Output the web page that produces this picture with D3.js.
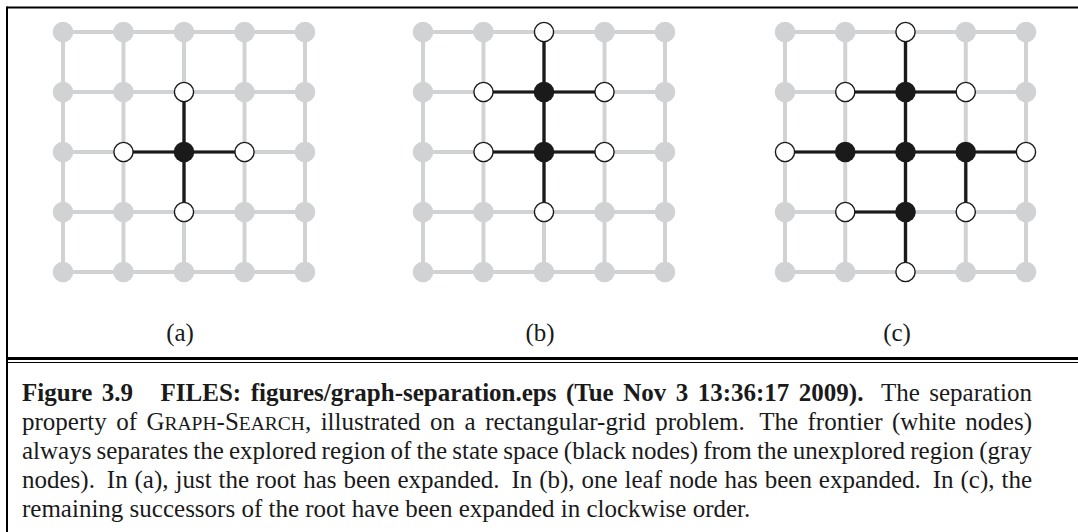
<!DOCTYPE html>
<html>
<head>
<meta charset="utf-8">
<script src="https://cdn.jsdelivr.net/npm/d3@7"></script>
<style>
  body { margin: 0; background: #fff; }
  svg { display: block; }
</style>
</head>
<body>
<div id="chart"></div>
<script>
// grid-separation figure: three 5x5 grids, nodes as [col, row]

var gridSize = 5;
var panelLabels = ["(a)", "(b)", "(c)"];

// explored (black) nodes per panel
var blackNodes = [
  [[2, 2]],
  [[2, 1], [2, 2]],
  [[2, 1], [2, 2], [1, 2], [3, 2], [2, 3]]
];

// frontier (white) nodes per panel
var whiteNodes = [
  [[2, 1], [1, 2], [3, 2], [2, 3]],
  [[2, 0], [1, 1], [3, 1], [1, 2], [3, 2], [2, 3]],
  [[2, 0], [1, 1], [3, 1], [0, 2], [4, 2], [3, 3], [1, 3], [2, 4]]
];

// search-tree edges per panel
var treeEdges = [
  [[[2, 2], [2, 1]], [[2, 2], [1, 2]], [[2, 2], [3, 2]], [[2, 2], [2, 3]]],
  [[[2, 1], [2, 0]], [[2, 1], [1, 1]], [[2, 1], [3, 1]], [[2, 1], [2, 2]],
   [[2, 2], [1, 2]], [[2, 2], [3, 2]], [[2, 2], [2, 3]]],
  [[[2, 1], [2, 0]], [[2, 1], [1, 1]], [[2, 1], [3, 1]], [[2, 1], [2, 2]],
   [[2, 2], [1, 2]], [[2, 2], [3, 2]], [[2, 2], [2, 3]],
   [[1, 2], [0, 2]], [[3, 2], [4, 2]], [[3, 2], [3, 3]],
   [[2, 3], [1, 3]], [[2, 3], [2, 4]]]
];

var captionLines = [
  [{t: "Figure 3.9", b: true}, {gap: 18}, {t: "FILES: figures/graph-separation.eps (Tue Nov 3 13:36:17 2009).", b: true}, {gap: 8}, {t: "The separation"}],
  [{t: "property of"}, {t: "G"}, {t: "RAPH", sc: true, join: true}, {t: "-S", join: true}, {t: "EARCH", sc: true, join: true}, {t: ",", join: true}, {t: "illustrated on a rectangular-grid problem."}, {gap: 5}, {t: "The frontier (white nodes)"}],
  [{t: "always separates the explored region of the state space (black nodes) from the unexplored region (gray"}],
  [{t: "nodes)."}, {gap: 5}, {t: "In (a), just the root has been expanded."}, {gap: 5}, {t: "In (b), one leaf node has been expanded."}, {gap: 5}, {t: "In (c), the"}],
  [{t: "remaining successors of the root have been expanded in clockwise order.", last: true}]
];

var svgWidth = 1078;
var svgHeight = 532;

var svg = d3.select("#chart")
  .append("svg")
  .attr("width", svgWidth)
  .attr("height", svgHeight);

// frame
var frameColor = "#000";
svg.append("line").attr("x1", 7).attr("x2", svgWidth).attr("y1", 7.5).attr("y2", 7.5)
  .attr("stroke", frameColor).attr("stroke-width", 2);
svg.append("line").attr("x1", 7).attr("x2", 7).attr("y1", 6.5).attr("y2", svgHeight)
  .attr("stroke", frameColor).attr("stroke-width", 2);
svg.append("line").attr("x1", 7).attr("x2", svgWidth).attr("y1", 358.5).attr("y2", 358.5)
  .attr("stroke", frameColor).attr("stroke-width", 3);
svg.append("line").attr("x1", 7).attr("x2", svgWidth).attr("y1", 362.5).attr("y2", 362.5)
  .attr("stroke", frameColor).attr("stroke-width", 1.2);

var panelRanges = [[63, 305], [423, 665], [785, 1026]];
var labelX = [180, 540, 897];
var yScale = d3.scaleLinear().domain([0, gridSize - 1]).range([32, 272]);

var gray = "#d1d2d4";
var key = function(p) { return p[0] + "," + p[1]; };

panelLabels.forEach(function(label, i) {
  var xScale = d3.scaleLinear().domain([0, gridSize - 1]).range(panelRanges[i]);
  var g = svg.append("g");

  // gray grid edges
  var gridEdges = [];
  d3.range(gridSize).forEach(function(r) {
    d3.range(gridSize).forEach(function(c) {
      if (c < gridSize - 1) gridEdges.push([[c, r], [c + 1, r]]);
      if (r < gridSize - 1) gridEdges.push([[c, r], [c, r + 1]]);
    });
  });
  g.selectAll("line.grid")
    .data(gridEdges)
    .enter()
    .append("line")
    .attr("class", "grid")
    .attr("x1", d => xScale(d[0][0]))
    .attr("y1", d => yScale(d[0][1]))
    .attr("x2", d => xScale(d[1][0]))
    .attr("y2", d => yScale(d[1][1]))
    .attr("stroke", gray)
    .attr("stroke-width", 4);

  // black tree edges
  g.selectAll("line.tree")
    .data(treeEdges[i])
    .enter()
    .append("line")
    .attr("class", "tree")
    .attr("x1", d => xScale(d[0][0]))
    .attr("y1", d => yScale(d[0][1]))
    .attr("x2", d => xScale(d[1][0]))
    .attr("y2", d => yScale(d[1][1]))
    .attr("stroke", "#1a1a1a")
    .attr("stroke-width", 3.2);

  // gray nodes
  var used = {};
  blackNodes[i].concat(whiteNodes[i]).forEach(function(p) { used[key(p)] = true; });
  var grayNodes = [];
  d3.range(gridSize).forEach(function(r) {
    d3.range(gridSize).forEach(function(c) {
      if (!used[key([c, r])]) grayNodes.push([c, r]);
    });
  });
  g.selectAll("circle.gray")
    .data(grayNodes)
    .enter()
    .append("circle")
    .attr("class", "gray")
    .attr("cx", d => xScale(d[0]))
    .attr("cy", d => yScale(d[1]))
    .attr("r", 10.3)
    .attr("fill", gray);

  g.selectAll("circle.white")
    .data(whiteNodes[i])
    .enter()
    .append("circle")
    .attr("class", "white")
    .attr("cx", d => xScale(d[0]))
    .attr("cy", d => yScale(d[1]))
    .attr("r", 9.6)
    .attr("fill", "#fff")
    .attr("stroke", "#1a1a1a")
    .attr("stroke-width", 1.4);

  g.selectAll("circle.black")
    .data(blackNodes[i])
    .enter()
    .append("circle")
    .attr("class", "black")
    .attr("cx", d => xScale(d[0]))
    .attr("cy", d => yScale(d[1]))
    .attr("r", 10.3)
    .attr("fill", "#1a1a1a");

  svg.append("text")
    .attr("x", labelX[i])
    .attr("y", 341)
    .attr("text-anchor", "middle")
    .attr("font-family", "'Liberation Serif', 'Times New Roman', serif")
    .attr("font-size", 25)
    .attr("fill", "#1a1a1a")
    .text(label);
});

// caption, justified line by line
var capLeft = 22, capRight = 1032;
var capFont = "'Liberation Serif', 'Times New Roman', serif";
var capSize = 25;
var baselines = [401, 430, 459, 488, 517];

captionLines.forEach(function(line, li) {
  // split into word pieces
  var pieces = [];
  line.forEach(function(seg) {
    if (seg.gap) { pieces.push({gap: seg.gap}); return; }
    var words = seg.t.split(" ");
    words.forEach(function(w, wi) {
      pieces.push({t: w, b: seg.b, sc: seg.sc, join: wi === 0 && seg.join});
    });
  });
  // group joined pieces into words
  var words = [];
  pieces.forEach(function(p) {
    if (p.gap) { words.push({gap: p.gap}); return; }
    if (p.join && words.length && !words[words.length - 1].gap) words[words.length - 1].parts.push(p);
    else words.push({parts: [p]});
  });

  var tg = svg.append("g");
  var total = 0, extraGap = 0, nWords = 0;
  words.forEach(function(w) {
    if (w.gap) { extraGap += w.gap; return; }
    var t = tg.append("text")
      .attr("y", baselines[li])
      .attr("font-family", capFont)
      .attr("font-size", capSize)
      .attr("fill", "#1a1a1a");
    w.parts.forEach(function(p) {
      var ts = t.append("tspan").text(p.t);
      if (p.b) ts.attr("font-weight", "bold");
      if (p.sc) ts.attr("font-size", capSize * 0.78);
    });
    w.node = t;
    w.width = t.node().getComputedTextLength();
    total += w.width;
    nWords++;
  });
  var isLast = line.some(function(s) { return s.last; });
  var space = isLast ? capSize * 0.25 : (capRight - capLeft - total - extraGap) / Math.max(1, nWords - 1);
  var x = capLeft;
  var first = true;
  words.forEach(function(w) {
    if (w.gap) { x += w.gap; return; }
    if (!first) x += space;
    w.node.attr("x", x);
    x += w.width;
    first = false;
  });
});
</script>
</body>
</html>
